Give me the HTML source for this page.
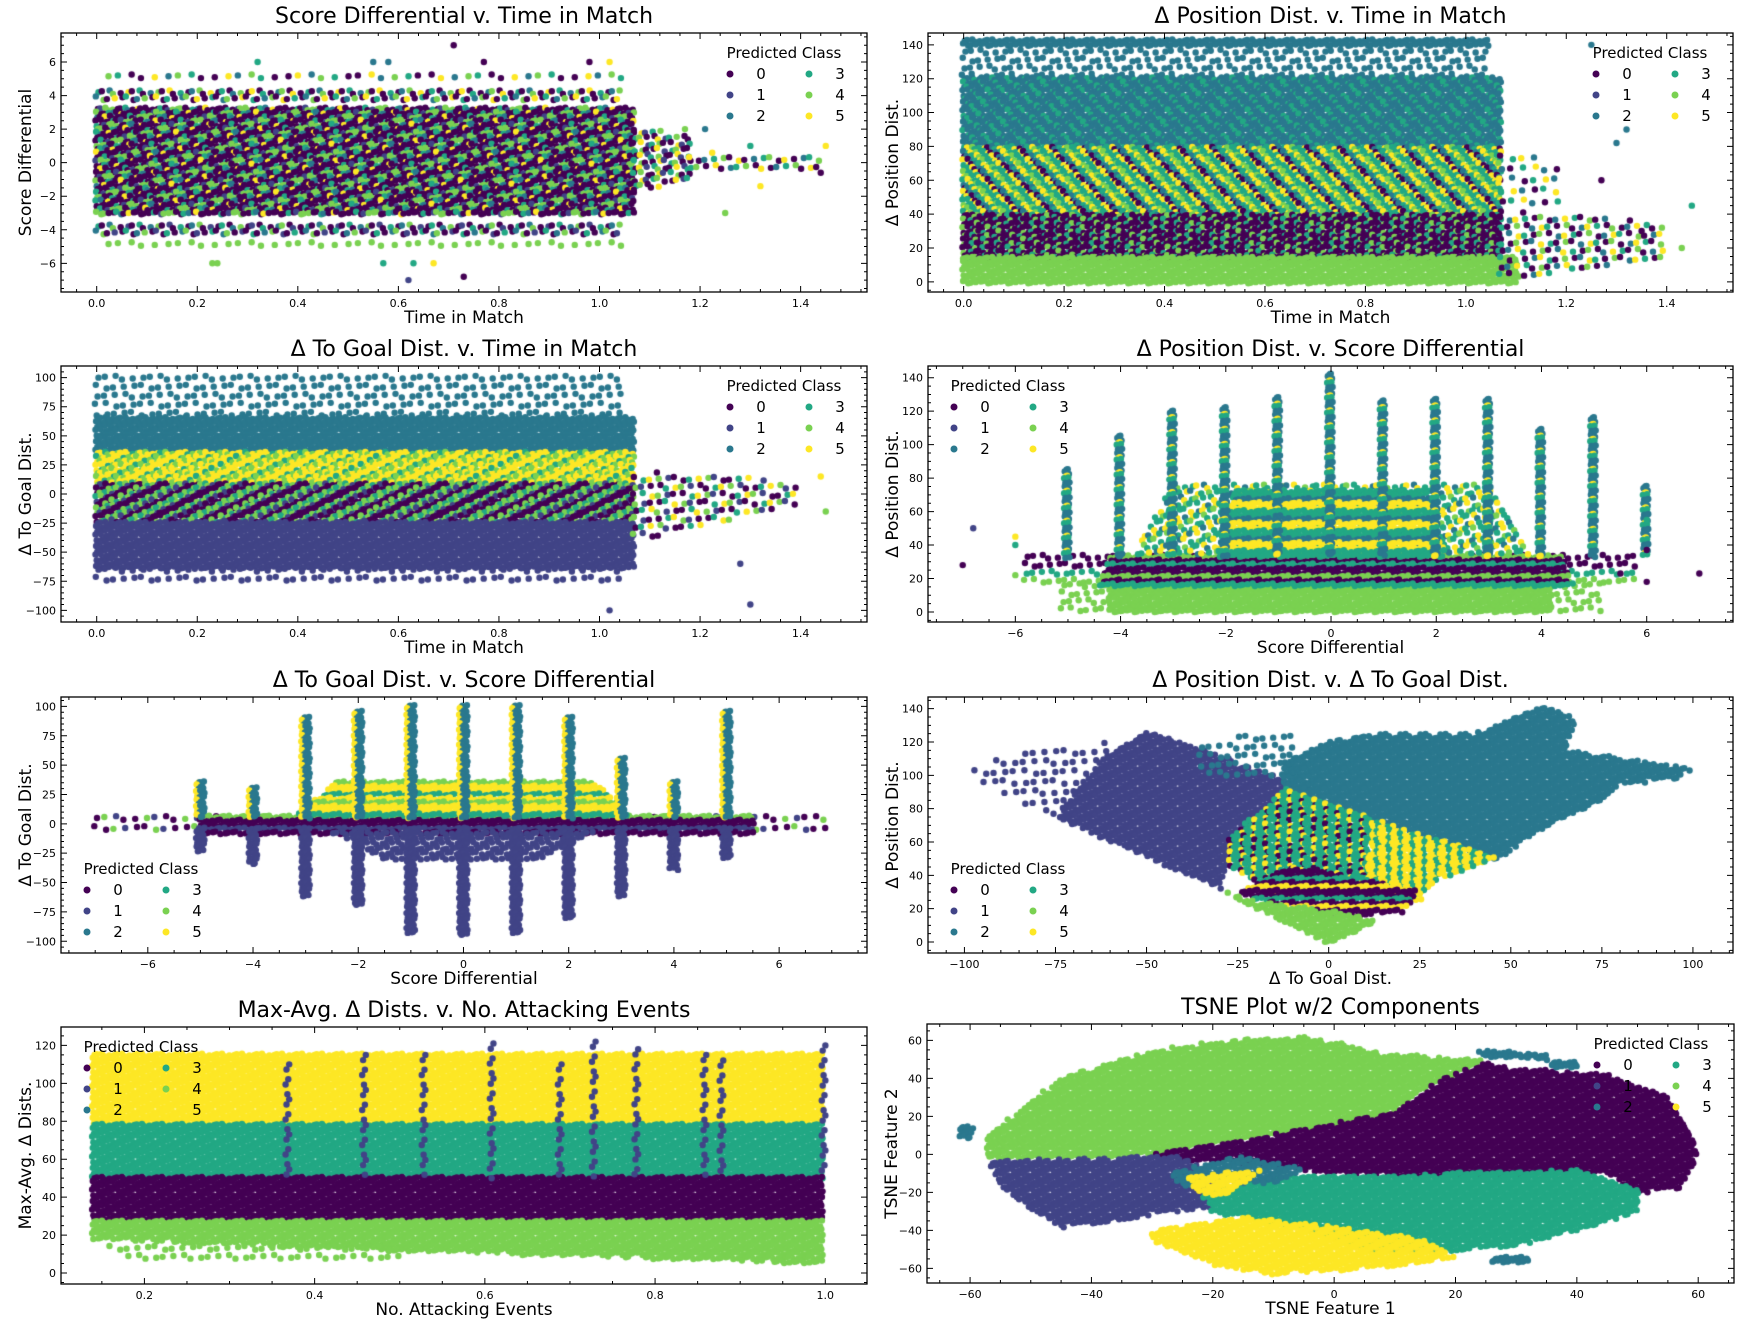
<!DOCTYPE html>
<html><head><meta charset="utf-8">
<style>
html,body{margin:0;padding:0;background:#fff;}
#wrap{position:relative;width:1740px;height:1325px;overflow:hidden;}
canvas,svg{position:absolute;left:0;top:0;}
text{font-family:"DejaVu Sans","Liberation Sans",sans-serif;fill:#000;}
</style></head>
<body>
<div id="wrap">
<canvas id="cv" width="1740" height="1325"></canvas>
<svg id="sv" width="1740" height="1325" xmlns="http://www.w3.org/2000/svg"></svg>
</div>
<script>
const COLORS=['#440154','#414487','#2a788e','#22a884','#7ad151','#fde725'];
const LEGEND_LABELS=['0','1','2','3','4','5'];

// ---- Panel 1: Score Differential v. Time in Match
const p1Blobs=[
 {c:[0,4,0,3,0,0,4,5,0,3,0,4,0,1,2,0,0],sp:4,p:[[0,-3.2],[1.07,-3.2],[1.07,3.2],[0,3.2]]},
 {c:[0,3,4,0,2,5,0],sp:6,p:[[0,3.8],[1.05,3.8],[1.05,4.2],[0,4.2]]},
 {c:[0,3,4,0,2,1,0],sp:6,p:[[0,-3.8],[1.05,-3.8],[1.05,-4.2],[0,-4.2]]},
 {c:[0,3,4,2,5,0],sp:12,p:[[0.02,4.85],[1.05,4.85],[1.05,5.15],[0.02,5.15]]},
 {c:[0,1,3,4,0],sp:12,p:[[0.02,-4.85],[1.05,-4.85],[1.05,-5.15],[0.02,-5.15]]},
 {c:[0,4,3,1,5,0],sp:6,p:[[1.07,-1.8],[1.18,-1],[1.18,1.5],[1.07,2.2]]},
 {c:[0,4,3,2,0,5],sp:8,p:[[1.18,-0.7],[1.45,-0.3],[1.45,0.3],[1.18,0.7]]}
];
const p1Out=[[0.71,7,0],[0.32,6,3],[0.55,6,2],[0.58,6,2],[0.77,6,0],[0.98,6,0],[1.02,6,5],[0.23,-6,4],[0.24,-6,4],[0.57,-6,3],[0.63,-6,3],[0.67,-6,5],[0.62,-7,1],[0.73,-6.8,0],[1.25,-3,4],[1.45,1,5],[1.44,-0.6,0],[1.17,2,4],[1.21,2,2],[1.3,1,3],[1.32,-1.4,5]];

// ---- Panel 2: Δ Position Dist. v. Time in Match
const p2Blobs=[
 {c:[2],sp:4,p:[[0,139.5],[1.05,139.5],[1.05,142.5],[0,142.5]]},
 {c:[2],sp:8,p:[[0,118],[1.05,118],[1.05,136],[0,136]]},
 {c:[2,2,2,3],sp:4,p:[[0,78],[1.07,78],[1.07,120],[0,120]]},
 {c:[3,5,4,2,3,5,0,3],sp:4,p:[[0,38],[1.07,38],[1.07,79],[0,79]]},
 {c:[0,0,0,3,0,4],sp:4,p:[[0,13],[1.07,13],[1.07,39],[0,39]]},
 {c:[4],sp:4,p:[[0,-1],[1.1,-1],[1.1,14],[0,14]]},
 {c:[4,0,3,5,2,0],sp:8,p:[[1.07,0],[1.4,15],[1.4,35],[1.07,42]]},
 {c:[3,5,2,0],sp:11,p:[[1.07,42],[1.2,42],[1.2,70],[1.07,80]]}
];
const p2Out=[[1.45,45,3],[1.43,20,4],[1.3,82,2],[1.32,90,2],[1.25,140,2],[1.27,60,0],[1.35,30,0]];

// ---- Panel 3: Δ To Goal Dist. v. Time in Match
const p3Blobs=[
 {c:[2],sp:9,p:[[0,65],[1.05,65],[1.05,100],[0,100]]},
 {c:[2],sp:4,p:[[0,35],[1.07,35],[1.07,65],[0,65]]},
 {c:[5,5,4,5,3,4,5],sp:4,p:[[0,8],[1.07,8],[1.07,35],[0,35]]},
 {c:[0,4,0,3,0,4,1],sp:4,p:[[0,-25],[1.07,-25],[1.07,8],[0,8]]},
 {c:[1],sp:4,p:[[0,-65],[1.07,-65],[1.07,-25],[0,-25]]},
 {c:[1],sp:9,p:[[0,-80],[1.05,-80],[1.05,-65],[0,-65]]},
 {c:[0,1,4,5,3,0],sp:8,p:[[1.07,-40],[1.4,-10],[1.4,10],[1.07,20]]}
];
const p3Out=[[1.45,-15,4],[1.3,-95,1],[1.02,-100,1],[1.44,15,5],[1.28,-60,1]];

// ---- Panel 4: Δ Position Dist. v. Score Differential
const p4Blobs=[
 {c:[4],sp:8,p:[[-5.1,-1],[5.1,-1],[5.1,16],[-5.1,16]]},
 {c:[4],sp:4,p:[[-4.2,-1],[4.2,-1],[4.2,15],[-4.2,15]]},
 {c:[0,0,4,0,3],sp:8,p:[[-5.8,15],[5.8,15],[5.8,33],[-5.8,33]]},
 {c:[0,0,0,4,3],sp:4,p:[[-4.4,15],[4.6,15],[4.4,33],[-4.2,33]]},
 {c:[5,3,3,5,3,2,4],sp:6,p:[[-3.8,33],[3.8,33],[3,75],[-3,75]]},
 {c:[5,3,5,3,2],sp:4,p:[[-2.2,33],[2.2,33],[1.8,72],[-1.8,72]]}
];
const p4ColX=[-5,-4,-3,-2,-1,0,1,2,3,4,5,6];
const p4ColTop=[85,105,120,122,128,142,126,127,127,109,116,75];
const p4Out=[[-7,28,0],[-6.8,50,1],[-6,45,5],[-6,22,4],[-6,40,3],[7,23,0],[6,18,0],[5.5,23,0],[6,37,0],[6,55,3]];

// ---- Panel 5: Δ To Goal Dist. v. Score Differential
const p5Blobs=[
 {c:[0,4,1,0],sp:10,p:[[-7,-5],[7,-5],[7,5],[-7,5]]},
 {c:[0,0,1,4,0],sp:4,p:[[-5,-8],[5.5,-8],[5.5,6],[-5,6]]},
 {c:[5,5,3,4,5],sp:4,p:[[-3.2,5],[3.2,5],[2.5,35],[-2.5,35]]},
 {c:[1],sp:5,p:[[-2.5,-8],[2.5,-8],[1.5,-30],[-1.5,-30]]}
];
const p5ColX=[-5,-4,-3,-2,-1,0,1,2,3,4,5];
const p5ColTop=[35,30,90,95,100,100,100,90,55,35,95];
const p5ColBottom=[-25,-35,-62,-70,-92,-95,-92,-80,-62,-40,-30];

// ---- Panel 6: Δ Position Dist. v. Δ To Goal Dist.
const p6Blobs=[
 {c:[1],sp:10,p:[[-100,100],[-88,112],[-60,120],[-62,108],[-75,75]]},
 {c:[1],sp:4,p:[[-75,75],[-62,110],[-50,126],[-5,92],[-15,75],[-27,50],[-30,32]]},
 {c:[2],sp:9,p:[[-35,120],[-10,128],[-10,95],[-35,102]]},
 {c:[2],sp:4,p:[[-12,108],[0,120],[15,125],[40,125],[60,142],[68,133],[65,115],[80,110],[100,104],[95,98],[80,95],[75,85],[60,70],[50,55],[46,50],[20,68],[0,80],[-12,92]]},
 {c:[3,3,5,3,3,0],sp:4,p:[[-12,92],[0,82],[12,74],[10,30],[-10,25],[-27,45],[-27,62]]},
 {c:[5,5,3,5,5,3],sp:4,p:[[12,74],[20,68],[46,50],[30,38],[25,25],[10,25]]},
 {c:[0,0,3,5,0],sp:4,p:[[-25,30],[-10,45],[5,40],[25,30],[20,18],[5,15],[-20,25]]},
 {c:[4],sp:4,p:[[-31,32],[-20,24],[-5,20],[10,15],[13,12],[0,-1]]}
];

// ---- Panel 7: Max-Avg. Δ Dists. v. No. Attacking Events
const p7Blobs=[
 {c:[5],sp:4,p:[[0.14,78],[1.0,78],[1.0,115],[0.14,115]]},
 {c:[3],sp:4,p:[[0.14,50],[1.0,50],[1.0,78],[0.14,78]]},
 {c:[0],sp:4,p:[[0.14,27],[1.0,27],[1.0,50],[0.14,50]]},
 {c:[4],sp:4,p:[[0.14,18],[0.5,12],[1.0,5],[1.0,27],[0.14,27]]},
 {c:[4],sp:9,p:[[0.16,9],[0.5,4],[0.5,14],[0.16,18]]}
];
const p7ColX=[0.37,0.46,0.53,0.61,0.69,0.73,0.78,0.86,0.88,1.0];
const p7ColTop=[110,115,115,121,110,122,118,115,112,120];

// ---- Panel 8: TSNE Plot
const p8Blobs=[
 {c:[4],sp:4,p:[[-57,-3],[-35,-2],[-25,3],[-10,10],[0,15],[10,22],[15,35],[22,45],[25,50],[10,52],[5,55],[-5,62],[-15,60],[-25,57],[-35,50],[-45,40],[-52,22],[-57,10]]},
 {c:[0],sp:4,p:[[-30,0],[-10,10],[10,22],[18,40],[25,48],[30,45],[45,42],[55,30],[58,15],[60,0],[57,-18],[50,-20],[45,-10],[20,-12],[0,-10],[-15,-5],[-25,-3]]},
 {c:[1],sp:4,p:[[-57,-3],[-55,-15],[-50,-30],[-45,-38],[-35,-35],[-28,-30],[-20,-28],[-20,-10],[-25,-2],[-35,-2]]},
 {c:[3],sp:4,p:[[-22,-20],[-10,-12],[0,-12],[20,-10],[40,-8],[50,-18],[50,-30],[40,-40],[30,-48],[15,-52],[5,-50],[-5,-40],[-20,-30]]},
 {c:[2],sp:4,p:[[-27,-10],[-15,-1],[-5,-8],[-10,-15],[-25,-16]]},
 {c:[2],sp:3,p:[[-61.5,9],[-60,9],[-59.5,14],[-61.5,14]]},
 {c:[2],sp:3,p:[[24,55],[35,52],[35,50],[24,52]]},
 {c:[2],sp:3,p:[[36,48],[40,48],[40,45],[36,45]]},
 {c:[2],sp:3,p:[[26,-55],[32,-53],[32,-57],[26,-57]]},
 {c:[5],sp:4,p:[[-30,-40],[-15,-33],[0,-38],[15,-45],[20,-55],[5,-60],[-10,-63],[-20,-58],[-30,-45]]},
 {c:[5],sp:4,p:[[-24,-12],[-12,-8],[-18,-22],[-23,-20]]}
];

const panels=[
 {id:'score-vs-time',l:61,t:33,r:867,b:292,x:[-0.071,1.532],y:[-7.71,7.73],xt:[0,0.2,0.4,0.6,0.8,1.0,1.2,1.4],xm:0.04,xd:1,yt:[-6,-4,-2,0,2,4,6],ym:0.5,yd:0,title:'Score Differential v. Time in Match',xl:'Time in Match',yl:'Score Differential',leg:'ur',blobs:p1Blobs,out:p1Out},
 {id:'posdist-vs-time',l:928,t:33,r:1733,b:292,x:[-0.071,1.532],y:[-6,147],xt:[0,0.2,0.4,0.6,0.8,1.0,1.2,1.4],xm:0.04,xd:1,yt:[0,20,40,60,80,100,120,140],ym:5,yd:0,title:'Δ Position Dist. v. Time in Match',xl:'Time in Match',yl:'Δ Position Dist.',leg:'ur',blobs:p2Blobs,out:p2Out},
 {id:'togoal-vs-time',l:61,t:366,r:867,b:622,x:[-0.071,1.532],y:[-110,110],xt:[0,0.2,0.4,0.6,0.8,1.0,1.2,1.4],xm:0.04,xd:1,yt:[-100,-75,-50,-25,0,25,50,75,100],ym:5,yd:0,title:'Δ To Goal Dist. v. Time in Match',xl:'Time in Match',yl:'Δ To Goal Dist.',leg:'ur',blobs:p3Blobs,out:p3Out},
 {id:'posdist-vs-score',l:928,t:366,r:1733,b:622,x:[-7.66,7.64],y:[-6,147],xt:[-6,-4,-2,0,2,4,6],xm:0.5,xd:0,yt:[0,20,40,60,80,100,120,140],ym:5,yd:0,title:'Δ Position Dist. v. Score Differential',xl:'Score Differential',yl:'Δ Position Dist.',leg:'ul',blobs:p4Blobs,out:p4Out,colX:p4ColX,colTop:p4ColTop,colBase:33,colC:[2,2,3,2,5],colW:0.05,colSp:3},
 {id:'togoal-vs-score',l:61,t:697,r:867,b:953,x:[-7.65,7.67],y:[-110,108],xt:[-6,-4,-2,0,2,4,6],xm:0.5,xd:0,yt:[-100,-75,-50,-25,0,25,50,75,100],ym:5,yd:0,title:'Δ To Goal Dist. v. Score Differential',xl:'Score Differential',yl:'Δ To Goal Dist.',leg:'ll',blobs:p5Blobs,out:[],colX:p5ColX,colTop:p5ColTop,colBase:5,colC:[2,2,5],colBottom:p5ColBottom,colW:0.06,colSp:3},
 {id:'posdist-vs-togoal',l:928,t:697,r:1733,b:953,x:[-110,111],y:[-6.6,147],xt:[-100,-75,-50,-25,0,25,50,75,100],xm:5,xd:0,yt:[0,20,40,60,80,100,120,140],ym:5,yd:0,title:'Δ Position Dist. v. Δ To Goal Dist.',xl:'Δ To Goal Dist.',yl:'Δ Position Dist.',leg:'ll',blobs:p6Blobs,out:[]},
 {id:'maxavg-vs-events',l:61,t:1027,r:867,b:1284,x:[0.102,1.049],y:[-5.8,129.7],xt:[0.2,0.4,0.6,0.8,1.0],xm:0.05,xd:1,yt:[0,20,40,60,80,100,120],ym:5,yd:0,title:'Max-Avg. Δ Dists. v. No. Attacking Events',xl:'No. Attacking Events',yl:'Max-Avg. Δ Dists.',leg:'ul',blobs:p7Blobs,out:[],colX:p7ColX,colTop:p7ColTop,colBase:50,colC:[2,2,1],colW:0.002,colSp:7},
 {id:'tsne',l:927,t:1024,r:1734,b:1283,x:[-67.1,65.9],y:[-67.7,68.6],xt:[-60,-40,-20,0,20,40,60],xm:5,xd:0,yt:[-60,-40,-20,0,20,40,60],ym:5,yd:0,title:'TSNE Plot w/2 Components',xl:'TSNE Feature 1',yl:'TSNE Feature 2',leg:'ur',blobs:p8Blobs,out:[]}
];

const cv=document.getElementById('cv');const ctx=cv.getContext('2d');
const sv=document.getElementById('sv');const NS='http://www.w3.org/2000/svg';
function mk(tag,attrs,parent){const e=document.createElementNS(NS,tag);for(const k in attrs)e.setAttribute(k,attrs[k]);(parent||sv).appendChild(e);return e;}
function fmt(v,d){let s=v.toFixed(d);if(v<0)s='\u2212'+s.slice(1);return s;}
function inPoly(px,py,poly){let ins=false;for(let i=0,j=poly.length-1;i<poly.length;j=i++){const xi=poly[i][0],yi=poly[i][1],xj=poly[j][0],yj=poly[j][1];if(((yi>py)!=(yj>py))&&(px<(xj-xi)*(py-yi)/(yj-yi)+xi))ins=!ins;}return ins;}
function dot(x,y,c){ctx.fillStyle=COLORS[c];ctx.beginPath();ctx.arc(x,y,3.2,0,Math.PI*2);ctx.fill();}

panels.forEach((P,pi)=>{
 const sx=v=>P.l+(v-P.x[0])/(P.x[1]-P.x[0])*(P.r-P.l);
 const sy=v=>P.b-(v-P.y[0])/(P.y[1]-P.y[0])*(P.b-P.t);
 ctx.save();ctx.beginPath();ctx.rect(P.l,P.t,P.r-P.l,P.b-P.t);ctx.clip();
 function fillBlob(B){
  const pp=B.p.map(q=>[sx(q[0]),sy(q[1])]);
  let x0=Math.min(...pp.map(q=>q[0])),x1=Math.max(...pp.map(q=>q[0]));
  let y0=Math.min(...pp.map(q=>q[1])),y1=Math.max(...pp.map(q=>q[1]));
  const s=B.sp;let i=0;
  for(let yy=y0;yy<=y1+0.01;yy+=s){let j=0;i++;
   for(let xx=x0;xx<=x1+0.01;xx+=s){j++;
    const jx=((i*37+j*17)%5-2)*0.6*(s>5?1.5:1),jy=((i*13+j*29)%5-2)*0.6*(s>5?1.5:1);
    const px=xx+jx,py=yy+jy;
    if(inPoly(px,py,pp)||inPoly(xx,yy,pp))dot(px,py,B.c[(i*3+j*5)%B.c.length]);
   }}
 }
 P.blobs.forEach(fillBlob);
 if(P.colX){const w=P.colW;P.colX.forEach((cx,k)=>{
   fillBlob({c:P.colC,sp:P.colSp,p:[[cx-w,P.colBase],[cx+w,P.colBase],[cx+w,P.colTop[k]],[cx-w,P.colTop[k]]]});
   if(P.colBottom)fillBlob({c:[1],sp:P.colSp,p:[[cx-w,-5],[cx+w,-5],[cx+w,P.colBottom[k]],[cx-w,P.colBottom[k]]]});
 });}
 P.out.forEach(o=>dot(sx(o[0]),sy(o[1]),o[2]));
 ctx.restore();

 const g=mk('g',{});
 
 
 const fr=mk('rect',{x:P.l,y:P.t,width:P.r-P.l,height:P.b-P.t,fill:'none',stroke:'#000','stroke-width':1.3},g);
 
 
 let path='';
 for(let v=Math.ceil(P.x[0]/P.xm)*P.xm;v<=P.x[1];v+=P.xm){const X=sx(v);path+=`M${X},${P.b}v-3M${X},${P.t}v3`;}
 for(let v=Math.ceil(P.y[0]/P.ym)*P.ym;v<=P.y[1];v+=P.ym){const Y=sy(v);path+=`M${P.l},${Y}h3M${P.r},${Y}h-3`;}
 P.xt.forEach(v=>{const X=sx(v);path+=`M${X},${P.b}v-6M${X},${P.t}v6`;});
 P.yt.forEach(v=>{const Y=sy(v);path+=`M${P.l},${Y}h6M${P.r},${Y}h-6`;});
 const tk=mk('path',{d:path,stroke:'#000','stroke-width':1,fill:'none'},g);
 
 
 P.xt.forEach(v=>{const t=mk('text',{x:sx(v),y:P.b+15,'font-size':11,'text-anchor':'middle'},g);t.textContent=fmt(v,P.xd);
  
  });
 P.yt.forEach(v=>{const t=mk('text',{x:P.l-5,y:sy(v)+4,'font-size':11,'text-anchor':'end'},g);t.textContent=fmt(v,P.yd);
  
  });
 const ti=mk('text',{x:(P.l+P.r)/2,y:P.t-10,'font-size':22,'text-anchor':'middle'},g);ti.textContent=P.title;
 
 
 const xl=mk('text',{x:(P.l+P.r)/2,y:P.b+31,'font-size':17,'text-anchor':'middle'},g);xl.textContent=P.xl;
 
 
 const ycx=P.l-30,ycy=(P.t+P.b)/2;
 const yl=mk('text',{x:ycx,y:ycy,'font-size':17,'text-anchor':'middle',transform:`rotate(-90 ${ycx} ${ycy})`},g);yl.textContent=P.yl;
 
 
 let ox,oy;
 if(P.leg==='ur'){ox=P.r-158;oy=P.t+20;}
 else if(P.leg==='ul'){ox=P.l+5;oy=P.t+20;}
 else {ox=P.l+5;oy=P.b-84;}
 const lg=mk('g',{},g);
 
 
 const lt=mk('text',{x:ox+75,y:oy+5,'font-size':15,'text-anchor':'middle'},lg);lt.textContent='Predicted Class';
 
 
 for(let k=0;k<6;k++){const col=Math.floor(k/3),row=k%3;
  const mx=ox+21+col*79,my=oy+21*(row+1);
  const m=mk('circle',{cx:mx,cy:my,r:3.5,fill:COLORS[k]},lg);
  
  
  const tx=mk('text',{x:mx+31,y:my+5,'font-size':15,'text-anchor':'middle'},lg);tx.textContent=LEGEND_LABELS[k];
  
  
 }
});
</script>
</body></html>
